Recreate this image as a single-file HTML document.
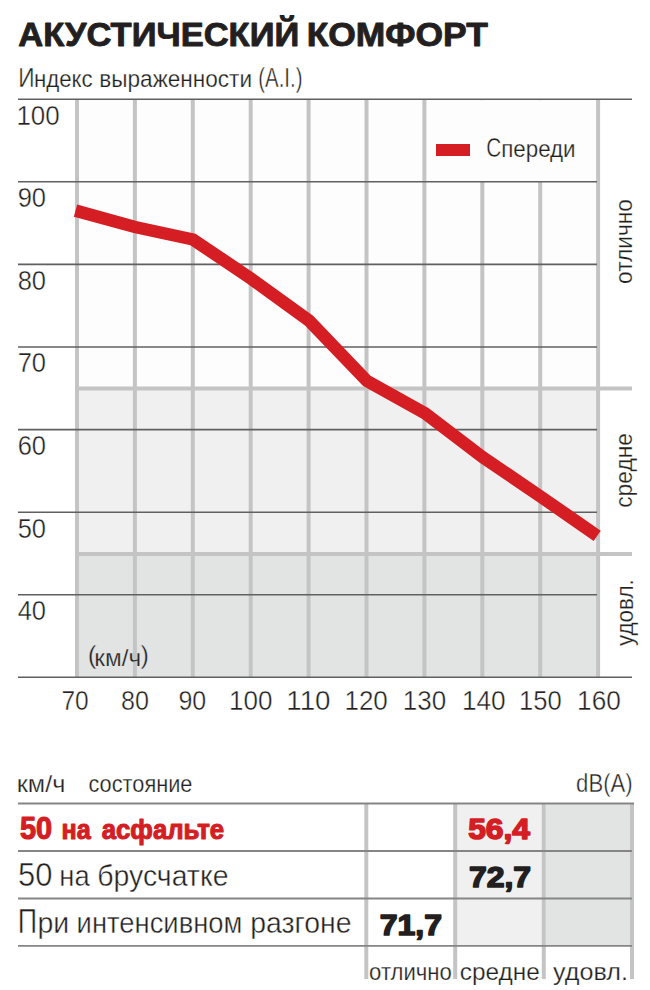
<!DOCTYPE html>
<html><head><meta charset="utf-8"><style>
html,body{margin:0;padding:0;background:#fff;}
svg{display:block;font-family:"Liberation Sans",sans-serif;}
</style></head><body>
<svg width="650" height="990" viewBox="0 0 650 990">
<rect x="0" y="0" width="650" height="990" fill="#fff"/>
<rect x="77" y="99.2" width="521.1" height="289.1" fill="#fdfdfd"/>
<rect x="77" y="388.3" width="521.1" height="165.1" fill="#f0f0f0"/>
<rect x="77" y="553.4" width="521.1" height="123.9" fill="#e2e4e4"/>
<line x1="77.0" y1="99.2" x2="77.0" y2="677.3" stroke="#c4c4c4" stroke-width="4"/>
<line x1="134.9" y1="99.2" x2="134.9" y2="677.3" stroke="#c4c4c4" stroke-width="4"/>
<line x1="192.8" y1="99.2" x2="192.8" y2="677.3" stroke="#c4c4c4" stroke-width="4"/>
<line x1="250.7" y1="99.2" x2="250.7" y2="677.3" stroke="#c4c4c4" stroke-width="4"/>
<line x1="308.6" y1="99.2" x2="308.6" y2="677.3" stroke="#c4c4c4" stroke-width="4"/>
<line x1="366.5" y1="99.2" x2="366.5" y2="677.3" stroke="#c4c4c4" stroke-width="4"/>
<line x1="424.4" y1="99.2" x2="424.4" y2="677.3" stroke="#c4c4c4" stroke-width="4"/>
<line x1="482.3" y1="99.2" x2="482.3" y2="677.3" stroke="#c4c4c4" stroke-width="4"/>
<line x1="540.2" y1="99.2" x2="540.2" y2="677.3" stroke="#c4c4c4" stroke-width="4"/>
<line x1="598.1" y1="99.2" x2="598.1" y2="677.3" stroke="#c4c4c4" stroke-width="4"/>
<rect x="427" y="100.2" width="169" height="81.6" fill="#fdfdfd"/>
<line x1="77" y1="388.6" x2="632" y2="388.6" stroke="#c4c4c4" stroke-width="4"/>
<line x1="77" y1="554" x2="632" y2="554" stroke="#c4c4c4" stroke-width="4"/>
<line x1="18" y1="99.2" x2="632.0" y2="99.2" stroke="#606060" stroke-width="1.6"/>
<line x1="18" y1="181.8" x2="597.0" y2="181.8" stroke="#606060" stroke-width="1.6"/>
<line x1="18" y1="264.4" x2="597.0" y2="264.4" stroke="#606060" stroke-width="1.6"/>
<line x1="18" y1="347.0" x2="597.0" y2="347.0" stroke="#606060" stroke-width="1.6"/>
<line x1="18" y1="429.6" x2="597.0" y2="429.6" stroke="#606060" stroke-width="1.6"/>
<line x1="18" y1="512.2" x2="597.0" y2="512.2" stroke="#606060" stroke-width="1.6"/>
<line x1="18" y1="594.7" x2="597.0" y2="594.7" stroke="#606060" stroke-width="1.6"/>
<line x1="18" y1="677.3" x2="632.0" y2="677.3" stroke="#606060" stroke-width="1.6"/>
<polyline fill="none" stroke="#d41e24" stroke-width="12.5" stroke-linejoin="miter" points="75.5,210.6 135,227 193,239.5 251,278.6 309,320.6 367,381 425,413.3 483,457.4 541,496.8 597.2,535.8"/>
<rect x="436" y="144" width="34" height="12" fill="#d41e24"/>
<rect x="457" y="803.5" width="85" height="142.3" fill="#f0f0f0"/>
<rect x="546" y="803.5" width="84" height="142.3" fill="#e2e4e4"/>
<line x1="366.3" y1="803.5" x2="366.3" y2="979" stroke="#c4c4c4" stroke-width="4"/>
<line x1="455.2" y1="803.5" x2="455.2" y2="979" stroke="#c4c4c4" stroke-width="4"/>
<line x1="543.8" y1="803.5" x2="543.8" y2="979" stroke="#c4c4c4" stroke-width="4"/>
<line x1="632" y1="803.5" x2="632" y2="979" stroke="#c4c4c4" stroke-width="4"/>
<line x1="18" y1="803.5" x2="634" y2="803.5" stroke="#858585" stroke-width="1.8"/>
<line x1="18" y1="851" x2="632" y2="851" stroke="#858585" stroke-width="1.8"/>
<line x1="18" y1="898.5" x2="632" y2="898.5" stroke="#858585" stroke-width="1.8"/>
<line x1="18" y1="945.8" x2="632" y2="945.8" stroke="#858585" stroke-width="1.8"/>
<text x="18.30" y="45.60" font-size="33" font-weight="bold" fill="#231f20" textLength="280.91" lengthAdjust="spacingAndGlyphs" stroke="#231f20" stroke-width="0.9" stroke-linejoin="round">АКУСТИЧЕСКИЙ</text>
<text x="306.65" y="45.60" font-size="33" font-weight="bold" fill="#231f20" textLength="181.21" lengthAdjust="spacingAndGlyphs" stroke="#231f20" stroke-width="0.9" stroke-linejoin="round">КОМФОРТ</text>
<text x="18.15" y="87.00" font-size="27.5" font-weight="normal" fill="#231f20" textLength="16.31" lengthAdjust="spacingAndGlyphs" stroke="#ffffff" stroke-width="0.4">И</text>
<text x="33.94" y="87.00" font-size="23.9" font-weight="normal" fill="#231f20" textLength="58.75" lengthAdjust="spacingAndGlyphs" stroke="#ffffff" stroke-width="0.25">ндекс</text>
<text x="99.31" y="87.00" font-size="23.9" font-weight="normal" fill="#231f20" textLength="152.73" lengthAdjust="spacingAndGlyphs" stroke="#ffffff" stroke-width="0.25">выраженности</text>
<text x="258.32" y="87.00" font-size="27.5" font-weight="normal" fill="#231f20" textLength="44.16" lengthAdjust="spacingAndGlyphs" stroke="#ffffff" stroke-width="0.4">(A.I.)</text>
<text x="16.41" y="124.60" font-size="27.5" font-weight="normal" fill="#231f20" textLength="43.33" lengthAdjust="spacingAndGlyphs" stroke="#ffffff" stroke-width="0.4">100</text>
<text x="17.67" y="207.19" font-size="27.5" font-weight="normal" fill="#231f20" textLength="28.38" lengthAdjust="spacingAndGlyphs" stroke="#ffffff" stroke-width="0.4">90</text>
<text x="17.67" y="289.78" font-size="27.5" font-weight="normal" fill="#231f20" textLength="28.38" lengthAdjust="spacingAndGlyphs" stroke="#ffffff" stroke-width="0.4">80</text>
<text x="17.67" y="372.37" font-size="27.5" font-weight="normal" fill="#231f20" textLength="28.38" lengthAdjust="spacingAndGlyphs" stroke="#ffffff" stroke-width="0.4">70</text>
<text x="17.67" y="454.96" font-size="27.5" font-weight="normal" fill="#231f20" textLength="28.38" lengthAdjust="spacingAndGlyphs" stroke="#ffffff" stroke-width="0.4">60</text>
<text x="17.67" y="537.55" font-size="27.5" font-weight="normal" fill="#231f20" textLength="28.38" lengthAdjust="spacingAndGlyphs" stroke="#ffffff" stroke-width="0.4">50</text>
<text x="17.67" y="620.14" font-size="27.5" font-weight="normal" fill="#231f20" textLength="28.38" lengthAdjust="spacingAndGlyphs" stroke="#ffffff" stroke-width="0.4">40</text>
<text x="61.51" y="710.20" font-size="27.5" font-weight="normal" fill="#231f20" textLength="27.22" lengthAdjust="spacingAndGlyphs" stroke="#ffffff" stroke-width="0.4">70</text>
<text x="121.09" y="710.20" font-size="27.5" font-weight="normal" fill="#231f20" textLength="27.96" lengthAdjust="spacingAndGlyphs" stroke="#ffffff" stroke-width="0.4">80</text>
<text x="178.39" y="710.20" font-size="27.5" font-weight="normal" fill="#231f20" textLength="27.75" lengthAdjust="spacingAndGlyphs" stroke="#ffffff" stroke-width="0.4">90</text>
<text x="229.11" y="710.20" font-size="27.5" font-weight="normal" fill="#231f20" textLength="43.44" lengthAdjust="spacingAndGlyphs" stroke="#ffffff" stroke-width="0.4">100</text>
<text x="286.28" y="710.20" font-size="27.5" font-weight="normal" fill="#231f20" textLength="44.27" lengthAdjust="spacingAndGlyphs" stroke="#ffffff" stroke-width="0.4">110</text>
<text x="344.41" y="710.20" font-size="27.5" font-weight="normal" fill="#231f20" textLength="43.44" lengthAdjust="spacingAndGlyphs" stroke="#ffffff" stroke-width="0.4">120</text>
<text x="402.71" y="710.20" font-size="27.5" font-weight="normal" fill="#231f20" textLength="43.44" lengthAdjust="spacingAndGlyphs" stroke="#ffffff" stroke-width="0.4">130</text>
<text x="461.89" y="710.20" font-size="27.5" font-weight="normal" fill="#231f20" textLength="43.76" lengthAdjust="spacingAndGlyphs" stroke="#ffffff" stroke-width="0.4">140</text>
<text x="518.94" y="710.20" font-size="27.5" font-weight="normal" fill="#231f20" textLength="42.69" lengthAdjust="spacingAndGlyphs" stroke="#ffffff" stroke-width="0.4">150</text>
<text x="577.09" y="710.20" font-size="27.5" font-weight="normal" fill="#231f20" textLength="43.76" lengthAdjust="spacingAndGlyphs" stroke="#ffffff" stroke-width="0.4">160</text>
<text x="87.80" y="664.30" font-size="26.5" font-weight="normal" fill="#231f20" textLength="8.83" lengthAdjust="spacingAndGlyphs" stroke="#e2e4e4" stroke-width="0.4">(</text>
<text x="94.27" y="665.80" font-size="24" font-weight="normal" fill="#231f20" textLength="46.82" lengthAdjust="spacingAndGlyphs" stroke="#e2e4e4" stroke-width="0.25">км/ч</text>
<text x="140.55" y="664.30" font-size="26.5" font-weight="normal" fill="#231f20" textLength="8.39" lengthAdjust="spacingAndGlyphs" stroke="#e2e4e4" stroke-width="0.4">)</text>
<text x="486.13" y="156.75" font-size="27" font-weight="normal" fill="#231f20" textLength="15.03" lengthAdjust="spacingAndGlyphs" stroke="#ffffff" stroke-width="0.4">С</text>
<text x="501.24" y="156.75" font-size="24" font-weight="normal" fill="#231f20" textLength="74.35" lengthAdjust="spacingAndGlyphs" stroke="#ffffff" stroke-width="0.25">переди</text>
<text x="16.84" y="792.00" font-size="24.5" font-weight="normal" fill="#231f20" textLength="48.57" lengthAdjust="spacingAndGlyphs" stroke="#ffffff" stroke-width="0.25">км/ч</text>
<text x="88.51" y="792.00" font-size="24.5" font-weight="normal" fill="#231f20" textLength="103.96" lengthAdjust="spacingAndGlyphs" stroke="#ffffff" stroke-width="0.25">состояние</text>
<text x="576.11" y="792.00" font-size="25" font-weight="normal" fill="#231f20" textLength="56.57" lengthAdjust="spacingAndGlyphs" stroke="#ffffff" stroke-width="0.4">dB(A)</text>
<text x="19.90" y="839.30" font-size="30.8" font-weight="bold" fill="#d41e24" textLength="32.25" lengthAdjust="spacingAndGlyphs" stroke="#d41e24" stroke-width="1.1" stroke-linejoin="round">50</text>
<text x="61.48" y="839.30" font-size="27.3" font-weight="bold" fill="#d41e24" textLength="29.20" lengthAdjust="spacingAndGlyphs" stroke="#d41e24" stroke-width="1.1" stroke-linejoin="round">на</text>
<text x="101.70" y="839.30" font-size="27.3" font-weight="bold" fill="#d41e24" textLength="122.46" lengthAdjust="spacingAndGlyphs" stroke="#d41e24" stroke-width="1.1" stroke-linejoin="round">асфальте</text>
<text x="18.00" y="885.60" font-size="32.5" font-weight="normal" fill="#231f20" textLength="34.40" lengthAdjust="spacingAndGlyphs" stroke="#ffffff" stroke-width="0.5">50</text>
<text x="59.31" y="885.60" font-size="29" font-weight="normal" fill="#231f20" textLength="30.33" lengthAdjust="spacingAndGlyphs" stroke="#ffffff" stroke-width="0.4">на</text>
<text x="97.24" y="885.60" font-size="29" font-weight="normal" fill="#231f20" textLength="131.24" lengthAdjust="spacingAndGlyphs" stroke="#ffffff" stroke-width="0.4">брусчатке</text>
<text x="17.76" y="932.50" font-size="34.5" font-weight="normal" fill="#231f20" textLength="19.32" lengthAdjust="spacingAndGlyphs" stroke="#ffffff" stroke-width="0.5">П</text>
<text x="37.53" y="932.50" font-size="29" font-weight="normal" fill="#231f20" textLength="31.77" lengthAdjust="spacingAndGlyphs" stroke="#ffffff" stroke-width="0.4">ри</text>
<text x="76.61" y="932.50" font-size="29" font-weight="normal" fill="#231f20" textLength="165.82" lengthAdjust="spacingAndGlyphs" stroke="#ffffff" stroke-width="0.4">интенсивном</text>
<text x="250.14" y="932.50" font-size="29" font-weight="normal" fill="#231f20" textLength="101.38" lengthAdjust="spacingAndGlyphs" stroke="#ffffff" stroke-width="0.4">разгоне</text>
<text x="468.20" y="839.40" font-size="30.4" font-weight="bold" fill="#d41e24" textLength="61.82" lengthAdjust="spacingAndGlyphs" stroke="#d41e24" stroke-width="1.6" stroke-linejoin="round">56,4</text>
<text x="468.90" y="887.00" font-size="30.4" font-weight="bold" fill="#231f20" textLength="62.16" lengthAdjust="spacingAndGlyphs" stroke="#231f20" stroke-width="1.6" stroke-linejoin="round">72,7</text>
<text x="379.70" y="935.00" font-size="30.4" font-weight="bold" fill="#231f20" textLength="62.26" lengthAdjust="spacingAndGlyphs" stroke="#231f20" stroke-width="1.6" stroke-linejoin="round">71,7</text>
<text x="369.05" y="979.60" font-size="23.3" font-weight="normal" fill="#231f20" textLength="82.86" lengthAdjust="spacingAndGlyphs" stroke="#ffffff" stroke-width="0.25">отлично</text>
<text x="459.75" y="979.60" font-size="23.3" font-weight="normal" fill="#231f20" textLength="79.94" lengthAdjust="spacingAndGlyphs" stroke="#ffffff" stroke-width="0.25">средне</text>
<text x="553.00" y="979.60" font-size="23.3" font-weight="normal" fill="#231f20" textLength="74.93" lengthAdjust="spacingAndGlyphs" stroke="#ffffff" stroke-width="0.25">удовл.</text>
<text transform="translate(631.8,0) rotate(-90)" x="-283.96" y="0" font-size="23.5" font-weight="normal" fill="#231f20" textLength="84.77" lengthAdjust="spacingAndGlyphs" stroke="#ffffff" stroke-width="0.25">отлично</text>
<text transform="translate(632.3,0) rotate(-90)" x="-507.77" y="0" font-size="23.5" font-weight="normal" fill="#231f20" textLength="74.77" lengthAdjust="spacingAndGlyphs" stroke="#ffffff" stroke-width="0.25">средне</text>
<text transform="translate(632.6,0) rotate(-90)" x="-646.00" y="0" font-size="23.5" font-weight="normal" fill="#231f20" textLength="66.87" lengthAdjust="spacingAndGlyphs" stroke="#ffffff" stroke-width="0.25">удовл.</text>
</svg></body></html>
